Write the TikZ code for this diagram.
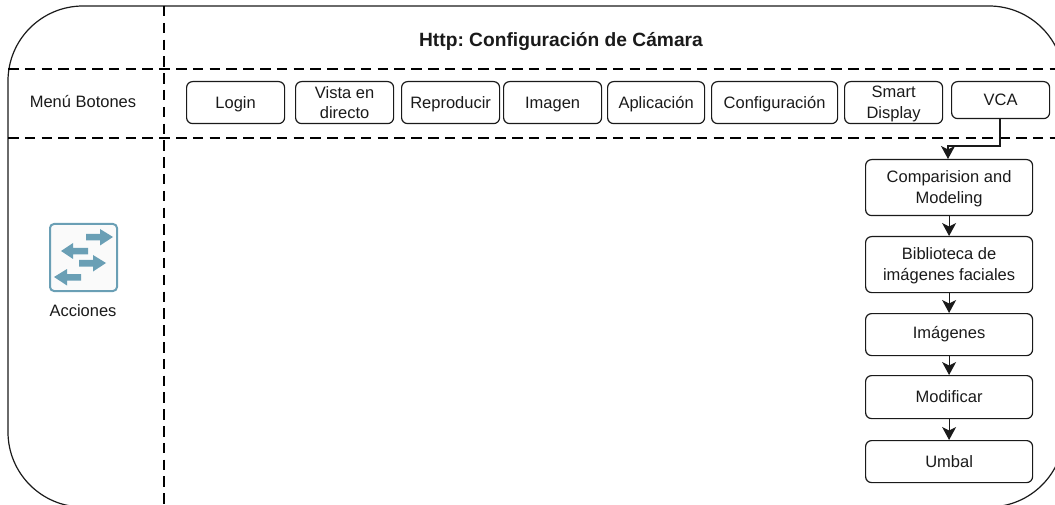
\documentclass[tikz,border=0pt]{standalone}
\usepackage{fontspec}
\setmainfont{Liberation Sans}
\usetikzlibrary{arrows.meta}
\definecolor{ink}{HTML}{1A1A1A}
\definecolor{iconblue}{HTML}{6A9FB5}
\frenchspacing
\tikzset{
  x=1pt,y=-1pt,
  every node/.style={font=\fontsize{16.5}{20.5}\selectfont,text=ink,inner sep=0pt},
  btn/.style={draw=ink,line width=1.2pt,rounded corners=6pt,align=center,anchor=north west},
  sep/.style={draw=black,line width=2.8pt,dash pattern=on 10.5pt off 6.3pt},
  flow/.style={draw=ink,line width=1.2pt,-{Stealth[length=13pt,width=14pt,inset=3.5pt]}},
  outer/.style={draw=ink,line width=1.2pt,rounded corners=75pt},
  iconarrow/.style={fill=iconblue,draw=none}
}
\newcommand{\btnbox}[6]{\node[btn,minimum width=#4pt-#2pt,minimum height=#5pt-#3pt] (#1) at (#2,#3) {#6};}
\newcommand{\lowr}{\rule{0pt}{14.5pt}}
\begin{document}
\begin{tikzpicture}
\useasboundingbox (0,0) rectangle (1055,505);
\clip (0,0) rectangle (1055,505);
\draw[outer] (8,6) rectangle (1064,507);
\coordinate (h1a) at (8,69); \coordinate (h1b) at (1055,69);
\coordinate (h2a) at (8,138); \coordinate (h2b) at (1055,138);
\coordinate (v1a) at (164,6); \coordinate (v1b) at (164,505);
\draw[sep] (h1a) -- (h1b);
\draw[sep] (h2a) -- (h2b);
\draw[sep] (v1a) -- (v1b);
\node[font=\fontsize{19.2}{22}\selectfont\bfseries] (title) at (561,41) {Http: Configuración de Cámara};
\node (menu) at (83,102) {Menú Botones};
\btnbox{login}{186}{81}{284}{123}{\lowr Login}
\btnbox{vista}{295}{81}{393}{123}{Vista en\\directo}
\btnbox{repro}{401}{81}{499}{123}{\lowr Reproducir}
\btnbox{imagen}{503}{81}{601}{123}{\lowr Imagen}
\btnbox{aplic}{607}{81}{704}{123}{\lowr Aplicación}
\btnbox{config}{711}{81}{837}{123}{\lowr Configuración}
\btnbox{smart}{844}{81}{942}{123}{\lowr Smart\\Display}
\btnbox{vca}{951}{81}{1049}{118}{VCA}
\btnbox{comp}{865}{159}{1032}{215}{\lowr Comparision and\\Modeling}
\btnbox{bibl}{865}{236}{1032}{292}{\lowr Biblioteca de\\imágenes faciales}
\btnbox{imgs}{865}{313}{1032}{355}{Imágenes}
\btnbox{modif}{865}{375}{1032}{418}{Modificar}
\btnbox{umbal}{865}{440}{1032}{482}{Umbal}
\coordinate (vcabot) at (1000,118);
\coordinate (comptop) at (948,159);
\draw[flow] (vcabot) -- (1000,146) -- (948,146) -- (comptop);
\draw[flow] (comp) -- (bibl);
\draw[flow] (bibl) -- (imgs);
\draw[flow] (imgs) -- (modif);
\draw[flow] (modif) -- (umbal);
\node[draw=iconblue,fill=black!2,line width=2pt,rounded corners=4pt,minimum width=67pt,minimum height=67pt] (icon) at (83.5,257.5) {};
\fill[iconarrow] (86,234) -- (100,234) -- (100,229) -- (113,237) -- (100,245.5) -- (100,240.5) -- (86,240.5) -- cycle;
\fill[iconarrow] (88,248) -- (73,248) -- (73,243) -- (61,251) -- (73,259) -- (73,254.5) -- (88,254.5) -- cycle;
\fill[iconarrow] (79,260) -- (93,260) -- (93,255) -- (106,263) -- (93,271.5) -- (93,266.5) -- (79,266.5) -- cycle;
\fill[iconarrow] (81,274) -- (67,274) -- (67,269) -- (54,277) -- (67,285.5) -- (67,280.5) -- (81,280.5) -- cycle;
\node (acc) at (83,311) {Acciones};
\end{tikzpicture}
\end{document}
